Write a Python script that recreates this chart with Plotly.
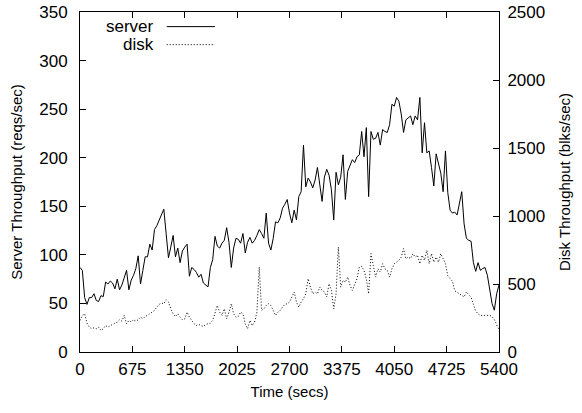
import plotly.graph_objects as go

# Sample times (secs), one sample every 30 s
time_secs = list(range(0, 5401, 30))

# Server throughput (reqs/sec), left axis
server = [
    87, 84, 56, 49, 56, 56, 60, 53, 52, 58, 57, 72, 70, 73, 71, 65, 75, 64, 69, 76,
    84, 64, 74, 79, 86, 99, 70, 84, 98, 98, 111, 105, 126, 130, 136, 140, 147, 122, 97, 108,
    120, 98, 107, 92, 104, 108, 111, 78, 87, 85, 82, 77, 80, 71, 69, 67, 87, 95, 119, 109,
    107, 112, 115, 128, 113, 87, 107, 117, 116, 112,
    122, 102, 113, 118, 112, 115, 120, 126, 122, 117, 143, 112, 105, 117, 134, 133, 138, 148, 152, 157,
    143, 133, 146, 136, 160, 165, 213, 170, 179, 175, 169, 177, 190, 170, 155, 180, 188, 182, 167, 136,
    185, 172, 180, 203, 157, 186, 193, 198, 195, 201, 203, 227, 201, 231, 160, 227, 219, 220, 226, 213,
    229, 227, 226, 234, 255, 253, 262, 258, 245, 226, 239, 241,
    243, 234, 243, 239, 262, 205, 236, 205, 207, 190, 171, 204, 195, 184, 165, 207, 164, 146, 143, 144,
    141, 154, 165, 132, 117, 115, 114, 92, 83, 92, 84, 86, 87, 79, 63, 50, 43, 60, 69,
]

# Disk throughput (blks/sec), right axis
disk = [
    232, 269, 281, 212, 183, 171, 178, 171, 183, 158, 171, 195, 183, 195, 203, 212, 220, 237, 227, 269,
    207, 232, 220, 237, 227, 237, 256, 244, 261, 269, 281, 293, 306, 330, 350, 360, 355, 384, 367, 318,
    281, 261, 281, 256, 237, 244, 293, 256, 232, 207, 195, 203, 195, 188, 203, 207, 212, 232, 281, 342,
    293, 269, 318, 244, 293, 355, 281, 256, 261, 293,
    281, 207, 171, 232, 195, 220, 293, 625, 306, 318, 342, 355, 342, 306, 269, 293, 306, 330, 350, 355,
    367, 404, 441, 367, 330, 367, 392, 428, 539, 477, 428, 441, 428, 477, 453, 441, 404, 502, 453, 318,
    428, 772, 477, 527, 514, 551, 490, 453, 490, 539, 625, 630, 600, 539, 428, 723, 637, 551, 612, 588,
    649, 612, 600, 551, 612, 649, 661, 674, 698, 760, 686, 698,
    686, 723, 698, 711, 649, 711, 674, 748, 649, 723, 661, 698, 661, 723, 686, 649, 560, 540, 520, 450,
    440, 430, 420, 405, 441, 420, 404, 350, 300, 281, 269, 269, 269, 269, 269, 261, 240, 200, 165,
]

x_ticks = [0, 675, 1350, 2025, 2700, 3375, 4050, 4725, 5400]
y_ticks = [0, 50, 100, 150, 200, 250, 300, 350]
y2_ticks = [0, 500, 1000, 1500, 2000, 2500]

FONT = "Liberation Sans, Arial, Helvetica, sans-serif"
TICK_SIZE = 17
TITLE_SIZE = 15

fig = go.Figure()
fig.add_trace(go.Scatter(x=time_secs, y=server, mode="lines", name="server",
                         line=dict(color="black", width=1), yaxis="y"))
fig.add_trace(go.Scatter(x=time_secs, y=disk, mode="lines", name="disk",
                         line=dict(color="black", width=1, dash="1px,2px"), yaxis="y2"))

axis_common = dict(showgrid=False, zeroline=False, showline=True, linecolor="black",
                   linewidth=1, ticks="inside", ticklen=6, tickcolor="black",
                   automargin=False, ticklabeloverflow="allow",
                   tickfont=dict(family=FONT, size=TICK_SIZE, color="black"))

fig.update_layout(
    width=582, height=413,
    margin=dict(l=80, r=83, t=12, b=61),
    paper_bgcolor="white", plot_bgcolor="white",
    showlegend=False,
    hovermode=False,
    font=dict(family=FONT, size=TICK_SIZE, color="black"),
    xaxis=dict(range=[0, 5400], tickvals=x_ticks, mirror="ticks",
               title=dict(text="Time (secs)", font=dict(family=FONT, size=TITLE_SIZE), standoff=8),
               ticklabelstandoff=2, **axis_common),
    yaxis=dict(range=[0, 350], tickvals=y_ticks, mirror=False,
               title=dict(text="Server Throughput (reqs/sec)", font=dict(family=FONT, size=TITLE_SIZE), standoff=12),
               ticklabelstandoff=8, **axis_common),
    yaxis2=dict(range=[0, 2500], tickvals=y2_ticks, overlaying="y", side="right",
                title=dict(text="Disk Throughput (blks/sec)", font=dict(family=FONT, size=TITLE_SIZE), standoff=15),
                ticklabelstandoff=4, **axis_common),
)

# Gnuplot-style key: label on the left, line sample on the right
key_x_text = 0.181
key_x0, key_x1 = 0.207, 0.322
for label, ypos, dash in [("server", 0.957, "solid"), ("disk", 0.904, "1px,2px")]:
    fig.add_annotation(x=key_x_text, y=ypos, xref="paper", yref="paper", text=label,
                       showarrow=False, xanchor="right", yanchor="middle",
                       font=dict(family=FONT, size=TICK_SIZE, color="black"))
    fig.add_shape(type="line", xref="paper", yref="paper", x0=key_x0, x1=key_x1,
                  y0=ypos, y1=ypos, line=dict(color="black", width=1, dash=dash))

# Remove the default page margin so the figure sits at the window's top-left corner.
fig.write_html("out.html", config={"displayModeBar": False},
               post_script="document.body.style.margin='0';")
